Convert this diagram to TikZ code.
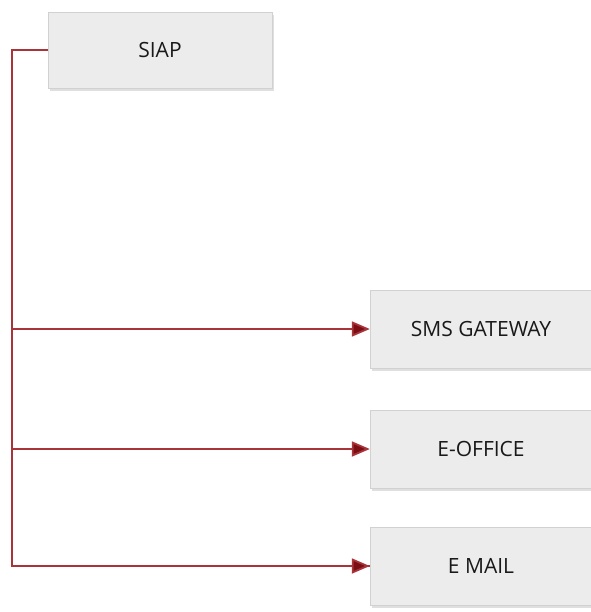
\documentclass[tikz,border=0pt]{standalone}
\usepackage{fontspec}
\setmainfont{Open Sans}
\usetikzlibrary{arrows.meta,shadows}
\definecolor{linkred}{HTML}{A8343A}
\definecolor{tipred}{HTML}{7A0E14}
\definecolor{boxgray}{HTML}{ECECEC}
\tikzstyle{block} = [rectangle, draw=black!18, fill=boxgray, text centered,
    minimum width=222pt, minimum height=78pt, text=black!90,
    font=\fontsize{21}{24}\selectfont,
    drop shadow={shadow xshift=2pt, shadow yshift=-3pt, fill=black!25}]
\tikzstyle{line} = [draw=linkred, line width=1.8pt]
\tikzstyle{arrow} = [line, -{Triangle[length=18pt, width=15pt, fill=tipred]}]

\begin{document}
\begin{tikzpicture}[x=1pt, y=-1pt]
        \useasboundingbox (0,0) rectangle (590,612);
        % Place nodes
        \node [block, minimum width=224pt, minimum height=76pt] (siap) at (160,50) {SIAP};
        \node [block] (smsg) at (481,329) {SMS GATEWAY};
        \node [block] (offi) at (481,449) {E-OFFICE};
        \node [block] (mail) at (481,566) {E MAIL};
        \coordinate (trun) at (12,50); % corner of the left trunk

        % Draw edges
        \path [line] (siap.west) -- (trun) |- (mail.west);
        \path [arrow] (trun |- smsg.west) -- (smsg.west);
        \path [arrow] (trun |- offi.west) -- (offi.west);
        \path [arrow] (trun |- mail.west) -- (mail.west);
\end{tikzpicture}
\end{document}
